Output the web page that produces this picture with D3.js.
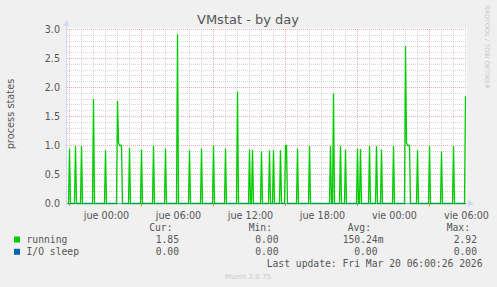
<!DOCTYPE html>
<html><head><meta charset="utf-8">
<script src="https://cdn.jsdelivr.net/npm/d3@7"></script>
<style>
html,body{margin:0;padding:0;background:#f0f0f0;}
svg{display:block;}
</style></head>
<body>
<svg id="chart" width="497" height="287"></svg>
<script>
// ---- data ----
const chartTitle = "VMstat - by day";
const yAxisTitle = "process states";
const timeStart = "2026-03-18T20:50";
const timeEnd = "2026-03-20T06:10";
// non-zero samples of "running" (5-minute samples, all others are 0)
const runningTimes = [
  "2026-03-18T21:00","2026-03-18T21:30","2026-03-18T22:00","2026-03-18T23:00",
  "2026-03-19T00:00","2026-03-19T01:00","2026-03-19T01:05","2026-03-19T01:10","2026-03-19T01:15","2026-03-19T01:20",
  "2026-03-19T02:00","2026-03-19T03:00","2026-03-19T04:00","2026-03-19T05:00","2026-03-19T06:00",
  "2026-03-19T07:00","2026-03-19T08:00","2026-03-19T09:00","2026-03-19T10:00","2026-03-19T11:00",
  "2026-03-19T12:00","2026-03-19T12:15","2026-03-19T13:00","2026-03-19T13:40","2026-03-19T14:00",
  "2026-03-19T14:35","2026-03-19T15:00","2026-03-19T15:05","2026-03-19T16:00","2026-03-19T17:00",
  "2026-03-19T18:45","2026-03-19T19:00","2026-03-19T19:35","2026-03-19T20:00","2026-03-19T21:00",
  "2026-03-19T21:15","2026-03-19T22:00","2026-03-19T22:35","2026-03-19T23:00",
  "2026-03-20T00:00","2026-03-20T01:00","2026-03-20T01:05","2026-03-20T01:10","2026-03-20T01:15","2026-03-20T01:20",
  "2026-03-20T02:00","2026-03-20T03:00","2026-03-20T04:00","2026-03-20T05:00","2026-03-20T06:00"
];
const runningValues = [
  0.95,0.99,0.99,1.80,
  0.92,1.77,1.05,1.00,1.00,1.00,
  0.96,0.93,1.00,0.95,2.92,
  0.92,0.95,1.00,0.95,1.93,
  0.93,0.92,0.90,0.92,0.92,
  0.92,1.00,1.00,0.95,0.99,
  0.99,1.90,0.99,0.93,0.95,
  0.94,0.99,0.99,0.93,
  0.99,2.71,1.05,1.00,1.00,1.00,
  0.92,0.99,0.90,0.99,1.85
];
const ioSleepTimes = ["2026-03-18T20:50","2026-03-20T06:05"];
const ioSleepValues = [0, 0];

const yTicks = [0, 0.5, 1.0, 1.5, 2.0, 2.5, 3.0];
const yMinorStep = 0.1;
const xLabelTimes = ["2026-03-19T00:00","2026-03-19T06:00","2026-03-19T12:00","2026-03-19T18:00","2026-03-20T00:00","2026-03-20T06:00"];
const xLabels = ["jue 00:00","jue 06:00","jue 12:00","jue 18:00","vie 00:00","vie 06:00"];
const xMajorGridTimes = ["2026-03-18T21:00","2026-03-19T03:00","2026-03-19T09:00","2026-03-19T15:00","2026-03-19T21:00","2026-03-20T03:00"];

const seriesNames = ["running","I/O sleep"];
const seriesColors = ["#00cc00","#0066b3"];
const legendHeaders = ["Cur:","Min:","Avg:","Max:"];
const legendRunning = ["1.85","0.00","150.24m","2.92"];
const legendIoSleep = ["0.00","0.00","0.00","0.00"];
const lastUpdate = "Last update: Fri Mar 20 06:00:26 2026";
const footer = "Munin 2.0.75";
const sideText = "RRDTOOL / TOBI OETIKER";

// ---- drawing ----
const parse = d3.timeParse("%Y-%m-%dT%H:%M");
const svg = d3.select("#chart");
const W = 497, H = 287;
const pLeft = 67, pRight = 467, pTop = 29, pBottom = 203;

const x = d3.scaleTime().domain([parse(timeStart), parse(timeEnd)]).range([pLeft, pRight]);
const y = d3.scaleLinear().domain([0, 3]).range([pBottom, pTop]);

const minorCol = "rgba(150,150,150,0.38)";
const majorCol = "rgba(222,79,79,0.45)";

svg.append("rect").attr("width", W).attr("height", H).attr("fill", "#f0f0f0");
svg.append("rect").attr("x", pLeft).attr("y", pTop - 1).attr("width", pRight - pLeft).attr("height", pBottom - pTop + 1).attr("fill", "#ffffff");

const grid = svg.append("g");
// vertical grid (every hour, major every 6 h)
const hours = d3.timeHour.range(parse(timeStart), parse(timeEnd));
const majorSet = new Set(xMajorGridTimes.map(s => +parse(s)));
hours.forEach(h => {
  const xx = Math.round(x(h)) + 0.5;
  const isMajor = majorSet.has(+h);
  grid.append("line").attr("x1", xx).attr("x2", xx).attr("y1", pTop).attr("y2", pBottom)
    .attr("stroke", isMajor ? majorCol : minorCol)
    .attr("stroke-dasharray", "1,1");
  grid.append("line").attr("x1", xx).attr("x2", xx).attr("y1", pBottom + 1).attr("y2", pBottom + (isMajor ? 3 : 2))
    .attr("stroke", isMajor ? "rgba(222,79,79,0.7)" : minorCol);
});
// horizontal grid
const minorY = d3.range(0, 3.0001, yMinorStep);
minorY.forEach(v => {
  const isMajor = Math.abs(v * 2 - Math.round(v * 2)) < 1e-6;
  if (v < 1e-6) return;
  const yy = Math.round(y(v)) + 0.5;
  grid.append("line").attr("x1", pLeft).attr("x2", pRight).attr("y1", yy).attr("y2", yy)
    .attr("stroke", isMajor ? majorCol : minorCol)
    .attr("stroke-dasharray", "1,1");
});

// build running series on the 5-minute sample grid
const runMap = new Map(runningTimes.map((t, i) => [+parse(t), runningValues[i]]));
const sampleTimes = d3.timeMinute.every(5).range(parse(timeStart), d3.timeMinute.offset(parse(runningTimes[runningTimes.length - 1]), 1));
const runningSeries = sampleTimes.map(t => ({t, v: runMap.has(+t) ? runMap.get(+t) : 0}));
const ioSeries = ioSleepTimes.map((t, i) => ({t: parse(t), v: ioSleepValues[i]}));

const line = d3.line().x(d => x(d.t) + 0.5).y(d => y(d.v) + 0.5);
svg.append("path").datum(runningSeries).attr("d", line).attr("fill", "none")
  .attr("stroke", seriesColors[0]).attr("stroke-width", 1.3).attr("stroke-linejoin", "miter");

// axes lines
const axisColor = "#CFD6F8";
svg.append("path").datum(ioSeries).attr("d", line).attr("fill", "none")
  .attr("stroke", seriesColors[1]).attr("stroke-width", 1).attr("opacity", 0.55);
svg.append("line").attr("x1", pLeft - 0.5).attr("x2", pLeft - 0.5).attr("y1", pBottom + 2).attr("y2", pTop - 5).attr("stroke", axisColor);
svg.append("path").attr("d", `M${pLeft - 3.5},${pTop - 3} L${pLeft + 2.5},${pTop - 3} L${pLeft - 0.5},${pTop - 9} Z`).attr("fill", axisColor);
svg.append("path").attr("d", `M${pRight + 1},${pBottom - 2.5} L${pRight + 1},${pBottom + 3.5} L${pRight + 7},${pBottom + 0.5} Z`).attr("fill", axisColor);

// y axis labels
const yAxis = d3.axisLeft(y).tickValues(yTicks).tickFormat(d3.format(".1f")).tickSize(0).tickPadding(7);
const ya = svg.append("g").attr("transform", `translate(${pLeft},0.5)`).call(yAxis);
ya.select(".domain").remove();
ya.selectAll("text").attr("font-family", "DejaVu Sans").attr("font-size", "9.6px").attr("fill", "#555");

// x axis labels
const xAxis = d3.axisBottom(x).tickValues(xLabelTimes.map(parse)).tickFormat((d, i) => xLabels[i]).tickSize(0).tickPadding(9);
const xa = svg.append("g").attr("transform", `translate(1,${pBottom})`).call(xAxis);
xa.select(".domain").remove();
xa.selectAll("text").attr("font-family", "DejaVu Sans").attr("font-size", "9.6px").attr("fill", "#555");

// title
svg.append("text").attr("x", 248).attr("y", 24).attr("text-anchor", "middle")
  .attr("font-family", "DejaVu Sans").attr("font-size", "13px").attr("fill", "#555").text(chartTitle);
// y title
svg.append("text").attr("transform", "translate(14,114) rotate(-90)").attr("text-anchor", "middle")
  .attr("font-family", "DejaVu Sans").attr("font-size", "9.8px").attr("fill", "#555").text(yAxisTitle);
// side text
svg.append("text").attr("transform", "translate(485,5) rotate(90)").attr("text-anchor", "start")
  .attr("font-family", "DejaVu Sans").attr("font-size", "6.5px").attr("fill", "#c8c8c8").text(sideText);

// legend
const mono = "DejaVu Sans Mono";
const lg = svg.append("g").attr("font-family", mono).attr("font-size", "9.7px").attr("fill", "#555");
const colRight = [172.5, 272, 371, 470];
const valRight = [179, 278.5, 383.5, 477];
legendHeaders.forEach((h, i) => lg.append("text").attr("x", colRight[i]).attr("y", 230.5).attr("text-anchor", "end").text(h));
[legendRunning, legendIoSleep].forEach((vals, r) => {
  const yy = 242.5 + r * 12.3;
  lg.append("rect").attr("x", 14).attr("y", yy - 6).attr("width", 6).attr("height", 6).attr("fill", seriesColors[r]);
  lg.append("text").attr("x", 26.5).attr("y", yy).text(seriesNames[r]);
  vals.forEach((v, i) => lg.append("text").attr("x", i === 2 && r === 1 ? 377.5 : valRight[i]).attr("y", yy).attr("text-anchor", "end").text(v));
});
lg.append("text").attr("x", 482.5).attr("y", 266.8).attr("text-anchor", "end").text(lastUpdate);
svg.append("text").attr("x", 248).attr("y", 278.5).attr("text-anchor", "middle")
  .attr("font-family", "DejaVu Sans").attr("font-size", "7px").attr("fill", "#c8c8c8").text(footer);
</script>
</body></html>
